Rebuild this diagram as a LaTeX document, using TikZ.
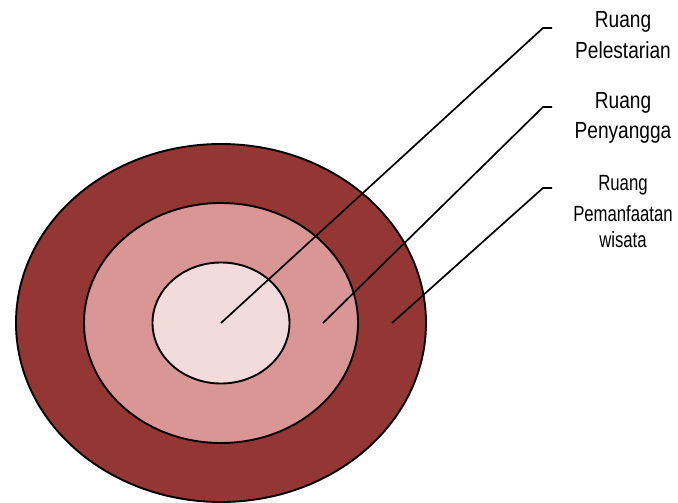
\documentclass[tikz,border=0pt]{standalone}
\usepackage{fontspec}
\setmainfont{Liberation Sans}[FakeStretch=0.82]
\newfontfamily\narrowfont{Liberation Sans}[FakeStretch=0.76]
\usetikzlibrary{shapes.geometric}
\definecolor{outerred}{HTML}{943634}
\definecolor{midred}{HTML}{D99694}
\definecolor{innerred}{HTML}{F2DCDB}
\begin{document}
\begin{tikzpicture}[x=1pt,y=-1pt,
  ring/.style={ellipse, draw=black, line width=1.9pt, inner sep=0pt},
  leader/.style={draw=black, line width=1.7pt},
  lbl/.style={anchor=base, inner sep=0pt, font=\fontsize{23.3}{28}\selectfont},
  lblsmall/.style={anchor=base, inner sep=0pt, font=\narrowfont\fontsize{22}{26}\selectfont}]
\useasboundingbox (0,0) rectangle (678,503);
\node[ring, fill=outerred, minimum width=410pt, minimum height=358pt] (outer) at (221,323) {};
\node[ring, fill=midred, minimum width=274pt, minimum height=240pt] (middle) at (221,323) {};
\node[ring, fill=innerred, minimum width=137pt, minimum height=121pt] (inner) at (221,323) {};
\coordinate (p1) at (221,323);
\coordinate (p2) at (323,323);
\coordinate (p3) at (392,323);
\coordinate (k1) at (543,28);
\coordinate (k2) at (543,107);
\coordinate (k3) at (543,188);
\coordinate (e1) at (552,28);
\coordinate (e2) at (552,107);
\coordinate (e3) at (552,188);
\draw[leader] (p1) -- (k1) -- (e1);
\draw[leader] (p2) -- (k2) -- (e2);
\draw[leader] (p3) -- (k3) -- (e3);
\node[lbl] (t1a) at (623,27.3) {Ruang};
\node[lbl] (t1b) at (623,58.3) {Pelestarian};
\node[lbl] (t2a) at (623,108) {Ruang};
\node[lbl] (t2b) at (623,139) {Penyangga};
\node[lblsmall] (t3a) at (623,190.7) {Ruang};
\node[lblsmall] (t3b) at (623,221.7) {Pemanfaatan};
\node[lblsmall] (t3c) at (623,247.3) {wisata};
\end{tikzpicture}
\end{document}
